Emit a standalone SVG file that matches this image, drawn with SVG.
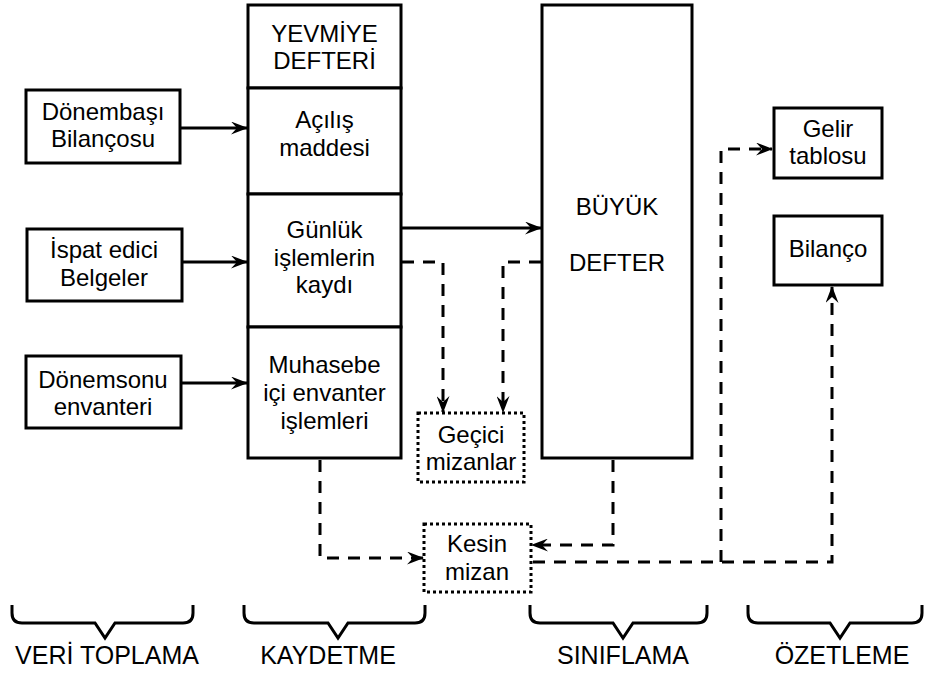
<svg xmlns="http://www.w3.org/2000/svg" width="931" height="680" viewBox="0 0 931 680">
<style>
.box{fill:#fff;stroke:#000;stroke-width:3}
.dot{fill:#fff;stroke:#000;stroke-width:3;stroke-dasharray:3 3}
.t{font-family:"Liberation Sans",Arial,sans-serif;font-size:24px;fill:#000;text-anchor:middle}
.lab{font-family:"Liberation Sans",Arial,sans-serif;font-size:25px;fill:#000;text-anchor:middle}
.ln{fill:none;stroke:#000;stroke-width:3}
.ds{fill:none;stroke:#000;stroke-width:3;stroke-dasharray:12 9}
.br{fill:none;stroke:#000;stroke-width:3;stroke-linejoin:miter}
</style>
<defs>
<marker id="arr" markerWidth="17" markerHeight="13" refX="16" refY="6.500" orient="auto" markerUnits="userSpaceOnUse">
<path d="M0,0 L17,6.500 L0,13 L6,6.500 z" fill="#000"/>
</marker>
</defs>

<g id="donembasi">
<rect class="box" x="26" y="90" width="154" height="73"/>
<text class="t" x="103" y="120">Dönembaşı</text>
<text class="t" x="103" y="147">Bilançosu</text>
</g>
<g id="ispat">
<rect class="box" x="27" y="229" width="155" height="72"/>
<text class="t" x="104" y="258">İspat edici</text>
<text class="t" x="104" y="286">Belgeler</text>
</g>
<g id="donemsonu">
<rect class="box" x="26" y="356" width="155" height="72"/>
<text class="t" x="103" y="388">Dönemsonu</text>
<text class="t" x="103" y="415">envanteri</text>
</g>

<g id="yevmiye">
<rect class="box" x="248" y="5" width="153" height="83"/>
<text class="t" x="324.500" y="42">YEVMİYE</text>
<text class="t" x="324.500" y="69">DEFTERİ</text>
</g>
<g id="acilis">
<rect class="box" x="248" y="88" width="153" height="106"/>
<text class="t" x="324.500" y="128">Açılış</text>
<text class="t" x="324.500" y="156">maddesi</text>
</g>
<g id="gunluk">
<rect class="box" x="248" y="194" width="153" height="133"/>
<text class="t" x="324.500" y="238">Günlük</text>
<text class="t" x="324.500" y="266">işlemlerin</text>
<text class="t" x="324.500" y="293">kaydı</text>
</g>
<g id="muhasebe">
<rect class="box" x="248" y="327" width="153" height="131"/>
<text class="t" x="324.500" y="373">Muhasebe</text>
<text class="t" x="324.500" y="401">içi envanter</text>
<text class="t" x="324.500" y="429">işlemleri</text>
</g>

<g id="buyuk">
<rect class="box" x="542" y="5" width="150" height="453"/>
<text class="t" x="617" y="215">BÜYÜK</text>
<text class="t" x="617" y="271">DEFTER</text>
</g>

<g id="gecici">
<rect class="dot" x="418" y="413" width="106" height="69"/>
<text class="t" x="471" y="443">Geçici</text>
<text class="t" x="471" y="470">mizanlar</text>
</g>
<g id="kesin">
<rect class="dot" x="424" y="524" width="107" height="68"/>
<text class="t" x="477" y="552">Kesin</text>
<text class="t" x="477" y="580">mizan</text>
</g>

<g id="gelir">
<rect class="box" x="774" y="108" width="108" height="70"/>
<text class="t" x="828" y="137">Gelir</text>
<text class="t" x="828" y="164">tablosu</text>
</g>
<g id="bilanco">
<rect class="box" x="774" y="216" width="108" height="69"/>
<text class="t" x="828" y="257">Bilanço</text>
</g>

<g id="connectors">
<line class="ln" x1="180" y1="128" x2="247" y2="128" marker-end="url(#arr)"/>
<line class="ln" x1="182" y1="262" x2="247" y2="262" marker-end="url(#arr)"/>
<line class="ln" x1="181" y1="383" x2="247" y2="383" marker-end="url(#arr)"/>
<line class="ln" x1="401" y1="228" x2="541" y2="228" marker-end="url(#arr)"/>
<path class="ds" d="M402 262 H443 V412" marker-end="url(#arr)"/>
<path class="ds" d="M541 262 H503 V412" marker-end="url(#arr)"/>
<path class="ds" d="M320 460 V558 H423" marker-end="url(#arr)"/>
<path class="ds" d="M613 460 V545 H532" marker-end="url(#arr)"/>
<path class="ds" d="M533 562 H832 V287" marker-end="url(#arr)"/>
<path class="ds" d="M721 562 V149 H772" marker-end="url(#arr)"/>
</g>

<g id="braces">
<path class="br" d="M12 605 V613 Q12 623 22 623 H95 L105 638 L115 623 H183 Q193 623 193 613 V605"/>
<path class="br" d="M244 605 V613 Q244 623 254 623 H328 L338 638 L348 623 H415 Q425 623 425 613 V605"/>
<path class="br" d="M530 605 V613 Q530 623 540 623 H613 L623 638 L633 623 H697 Q707 623 707 613 V605"/>
<path class="br" d="M748 605 V613 Q748 623 758 623 H830 L840 638 L850 623 H912 Q922 623 922 613 V605"/>
<text class="lab" x="107" y="664">VERİ TOPLAMA</text>
<text class="lab" x="328" y="664">KAYDETME</text>
<text class="lab" x="623" y="664">SINIFLAMA</text>
<text class="lab" x="842" y="664">ÖZETLEME</text>
</g>
</svg>
